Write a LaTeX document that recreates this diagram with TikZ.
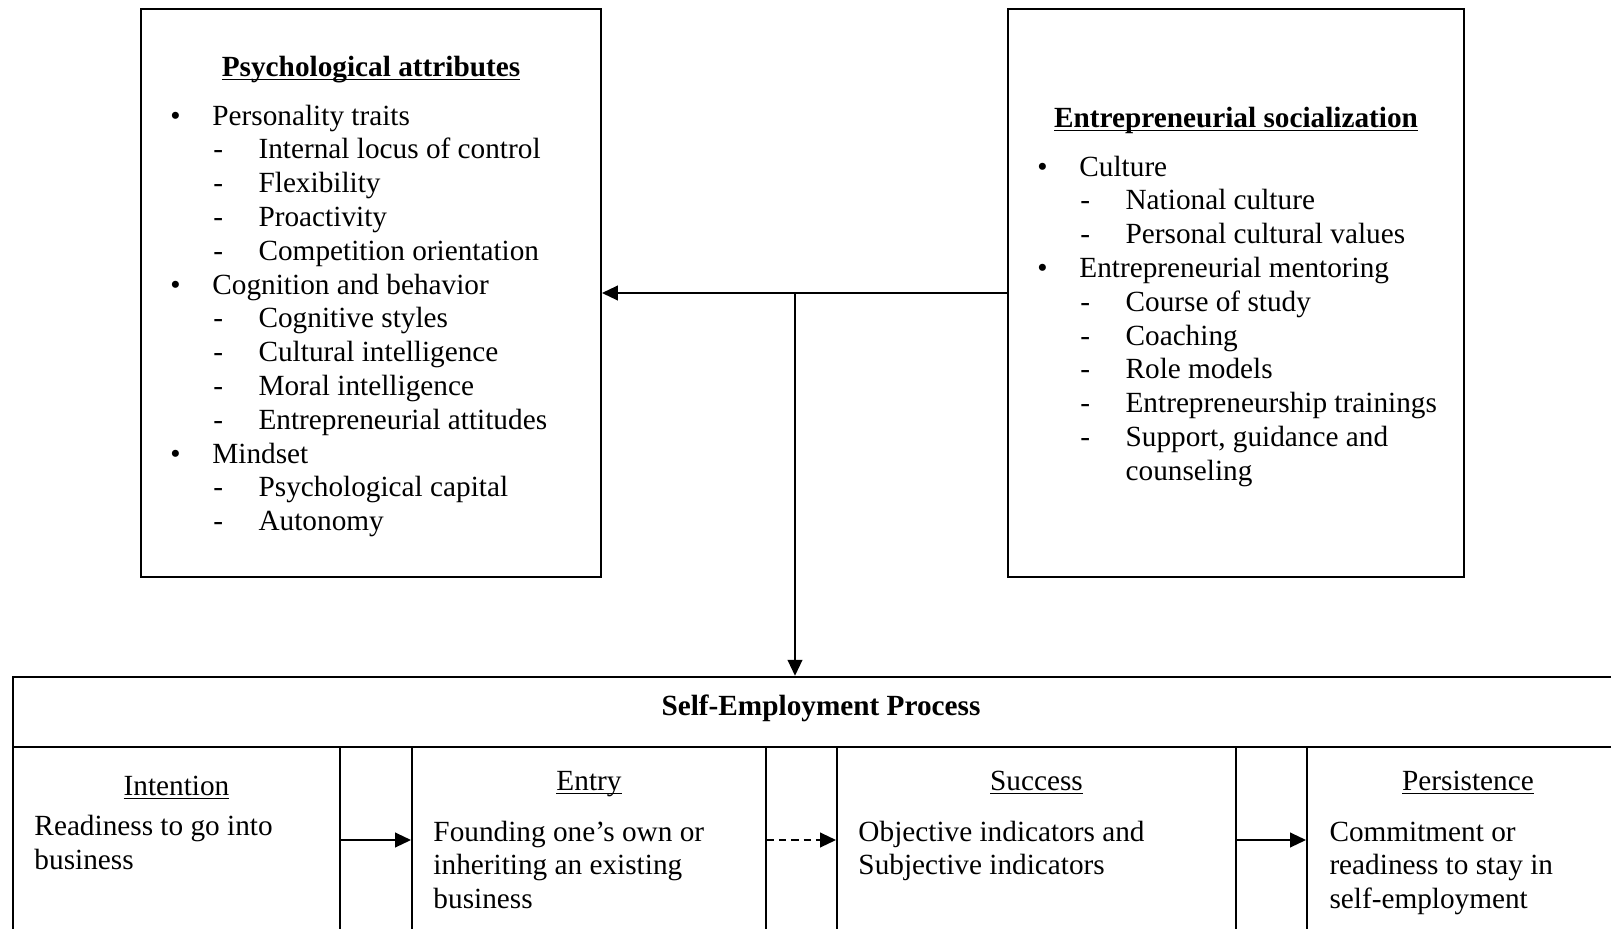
\documentclass[tikz,border=0pt]{standalone}
\usepackage{fontspec}
\setmainfont{Liberation Serif}
\usetikzlibrary{arrows.meta,fit}

\newcommand\itemmark[1]{\ifcase#1\or\makebox[17.2pt][l]{\textbullet}\or\makebox[18.5pt][l]{-}\or\makebox[18.5pt][l]{}\fi}
\newcommand\ulabel[1]{\underline{\smash{#1}}}

\tikzset{
  box/.style={draw, line width=0.8pt, inner sep=0pt},
  txt/.style={inner sep=0pt, font=\fontsize{12pt}{13.86pt}\selectfont},
  item/.style={txt, anchor=base west},
  para/.style={txt, anchor=base west, align=left},
  label/.style={txt, anchor=base},
  heading/.style={inner sep=0pt, anchor=base, font=\fontsize{12pt}{13.86pt}\selectfont\bfseries},
  link/.style={line width=0.7pt, -{Triangle[length=6.5pt,width=6pt]}},
}

\begin{document}
\begin{tikzpicture}[x=0.41pt,y=-0.41pt]
\useasboundingbox (0,0) rectangle (1611,929);
\clip (0,0) rectangle (1611,929);

% upper boxes
\node[box, fit={(141,9) (601,577)}] (psych) {};
\node[box, fit={(1008,9) (1464,577)}] (social) {};

\node[heading] (psych-title) at (371,76) {\ulabel{Psychological attributes}};
\foreach \lvl/\txt [count=\i from 0] in {1/Personality traits, 2/Internal locus of control,
    2/Flexibility, 2/Proactivity, 2/Competition orientation, 1/Cognition and behavior,
    2/Cognitive styles, 2/Cultural intelligence, 2/Moral intelligence,
    2/Entrepreneurial attitudes, 1/Mindset, 2/Psychological capital, 2/Autonomy}{
  \pgfmathsetmacro\xo{\lvl==1 ? 170 : 213}
  \node[item] (psych-\i) at (\xo,125+\i*33.8) {\itemmark{\lvl}\txt};
}

\node[heading] (social-title) at (1236,127) {\ulabel{Entrepreneurial socialization}};
\foreach \lvl/\txt [count=\i from 0] in {1/Culture, 2/National culture,
    2/Personal cultural values, 1/Entrepreneurial mentoring, 2/Course of study,
    2/Coaching, 2/Role models, 2/Entrepreneurship trainings,
    2/{Support, guidance and}, 3/counseling}{
  \pgfmathsetmacro\xo{\lvl==1 ? 1037 : 1080}
  \node[item] (social-\i) at (\xo,176+\i*33.8) {\itemmark{\lvl}\txt};
}

% process box
\node[box, line width=1pt, fit={(13,677) (1629,933)}] (process) {};
\node[box, fit={(13,677) (1629,747)}] (header) {};
\node[heading] (header-title) at (821,715) {Self-Employment Process};

\node[box, fit={(13,747) (340,933)}] (intention) {};
\node[box, fit={(412,747) (766,933)}] (entry) {};
\node[box, fit={(837,747) (1236,933)}] (success) {};
\node[box, fit={(1307,747) (1629,933)}] (persistence) {};

% (base of a multi-line node = its last line)
\node[label] (intention-label) at (176.5,795) {\ulabel{Intention}};
\node[para] (intention-text) at (34,869) {Readiness to go into\\business};
\node[label] (entry-label) at (589,790) {\ulabel{Entry}};
\node[para] (entry-text) at (433,908.6) {Founding one’s own or\\inheriting an existing\\business};
\node[label] (success-label) at (1036.5,790) {\ulabel{Success}};
\node[para] (success-text) at (858,874.8) {Objective indicators and\\Subjective indicators};
\node[label] (persistence-label) at (1468,790) {\ulabel{Persistence}};
\node[para] (persistence-text) at (1329,908.6) {Commitment or\\readiness to stay in\\self-employment};

% connectors
\coordinate (split) at (795,293);
\draw[link] (social.west) -- (psych.east);
\draw[link] (split) -- (split |- process.north);
\draw[link] (intention.east) -- (entry.west);
\draw[link, dash pattern=on 3pt off 2pt] (entry.east) -- (success.west);
\draw[link] (success.east) -- (persistence.west);
\end{tikzpicture}
\end{document}
